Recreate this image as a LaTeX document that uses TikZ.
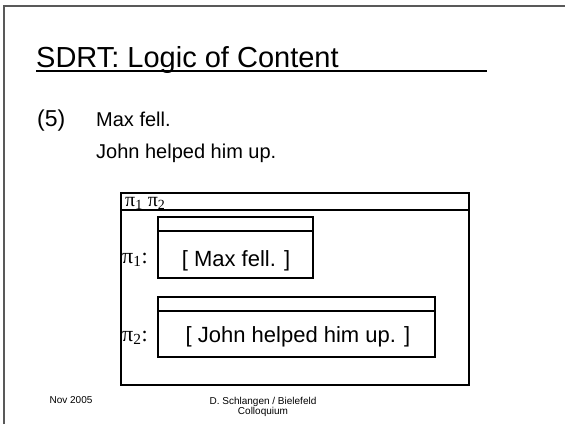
\documentclass[tikz,border=0pt]{standalone}
\usepackage{fontspec}
\setmainfont{Liberation Sans}
\newfontfamily\symfont{Liberation Serif}
\usetikzlibrary{positioning}
\newcommand{\fsize}[1]{\fontsize{#1}{#1}\selectfont}

\begin{document}
\begin{tikzpicture}[x=1pt,y=-1pt,
    drsbox/.style={draw, line width=1.1pt},
    lbl/.style={inner sep=0pt, anchor=base west}]
    \useasboundingbox (0,0) rectangle (565,424);
    \draw[color=gray!70!black, line width=1.6pt] (4,424) -- (4,6) -- (565,6);

    \node[lbl, font=\fsize{29}] (title) at (36,67) {SDRT: Logic of Content};
    \draw[line width=1.3pt] (36,71) -- (487,71);

    \node[lbl, font=\fsize{23}] (ex) at (37,126) {(5)};
    \node[lbl, font=\fsize{20}] (s1) at (96,126) {Max fell.};
    \node[lbl, font=\fsize{20}] (s2) at (96,158) {John helped him up.};

    % outer box
    \draw[drsbox] (121,193) rectangle (469,385);
    \draw[drsbox] (121,210) -- (469,210);
    \node[lbl, font=\symfont\fsize{20}] (univ) at (125,206) {π\textsubscript{1} π\textsubscript{2}};

    % pi_1
    \draw[drsbox] (158,217) rectangle (313,278);
    \draw[drsbox] (158,231) -- (313,231);
    \node[lbl, font=\symfont\fsize{22}] (p1) at (122,263) {π\textsubscript{1}:};
    \node[inner sep=0pt, anchor=base, font=\fsize{22}] (k1) at (236,266) {[ Max fell. ]};

    % pi_2
    \draw[drsbox] (158,297) rectangle (435,357);
    \draw[drsbox] (158,311) -- (435,311);
    \node[lbl, font=\symfont\fsize{22}] (p2) at (122,341) {π\textsubscript{2}:};
    \node[inner sep=0pt, anchor=base, font=\fsize{22}] (k2) at (298,342) {[ John helped him up. ]};

    \node[font=\fsize{10}] (date) at (71,400) {Nov 2005};
    \node[font=\fsize{10}, align=center] (auth) at (263,407) {D. Schlangen / Bielefeld\\Colloquium};
\end{tikzpicture}
\end{document}
